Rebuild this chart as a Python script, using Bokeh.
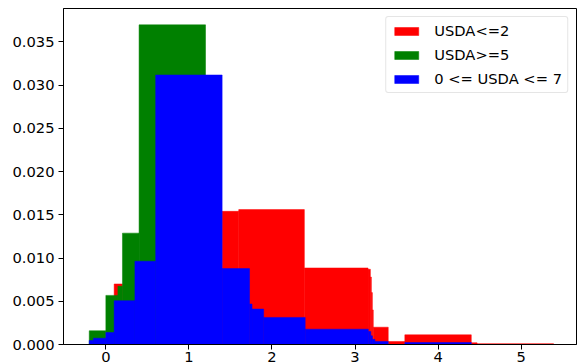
from bokeh.plotting import figure
from bokeh.models import ColumnDataSource, FixedTicker, PrintfTickFormatter, Range1d
from bokeh.embed import file_html
from bokeh.resources import INLINE

# Series "USDA<=2" (red): bar left edges, right edges, densities
red_left = [0.10, 1.40, 1.60, 2.39, 3.157, 3.185, 3.197, 3.209, 3.22, 3.40, 3.60, 4.40, 4.47]
red_right = [0.20, 1.60, 2.39, 3.157, 3.185, 3.197, 3.209, 3.22, 3.40, 3.60, 4.40, 4.47, 5.39]
red_top = [0.0070, 0.0154, 0.0156, 0.00885, 0.0087, 0.0078, 0.0060, 0.0040, 0.0020, 0.00035, 0.00112, 0.0002, 0.0001]

# Series "USDA>=5" (green)
green_left = [-0.20, 0.00, 0.145, 0.20, 0.40]
green_right = [0.00, 0.145, 0.20, 0.40, 1.20]
green_top = [0.00159, 0.00568, 0.00673, 0.01288, 0.03697]

# Series "0 <= USDA <= 7" (blue)
blue_left = [-0.20, -0.15, 0.00, 0.10, 0.35, 0.60, 1.40, 1.73, 1.76, 1.90, 2.40, 3.16, 3.19, 3.21, 3.24, 3.60]
blue_right = [-0.15, 0.00, 0.10, 0.35, 0.60, 1.40, 1.73, 1.76, 1.90, 2.40, 3.16, 3.19, 3.21, 3.24, 3.40, 4.40]
blue_top = [0.00046, 0.00073, 0.00139, 0.00507, 0.00963, 0.03117, 0.00878, 0.00468, 0.0041, 0.00313, 0.00177, 0.0015, 0.0010, 0.0006, 0.00035, 0.00023]

x_ticks = [0, 1, 2, 3, 4, 5]
y_ticks = [0.0, 0.005, 0.010, 0.015, 0.020, 0.025, 0.030, 0.035]

FONT = "DejaVu Sans"
FS = "14.7px"

p = figure(width=577, height=364,
           x_range=Range1d(-0.51, 5.667), y_range=Range1d(0, 0.03886),
           output_backend="svg", toolbar_location=None,
           min_border_left=63, min_border_right=1, min_border_top=8, min_border_bottom=0)

series = [
    ("USDA<=2", "red", red_left, red_right, red_top),
    ("USDA>=5", "green", green_left, green_right, green_top),
    ("0 <= USDA <= 7", "blue", blue_left, blue_right, blue_top),
]
for label, color, l, r, t in series:
    src = ColumnDataSource(dict(left=l, right=r, top=t, bottom=[0] * len(t)))
    p.quad(left="left", right="right", top="top", bottom="bottom", source=src,
           fill_color=color, line_color=color, line_width=0.5, legend_label=label)

p.xgrid.visible = False
p.ygrid.visible = False
p.outline_line_color = "black"
p.outline_line_alpha = 1

p.xaxis.ticker = FixedTicker(ticks=x_ticks)
p.yaxis.ticker = FixedTicker(ticks=y_ticks)
p.yaxis.formatter = PrintfTickFormatter(format="%.3f")
for ax in (p.xaxis, p.yaxis):
    ax.minor_tick_line_color = None
    ax.major_tick_in = 0
    ax.major_tick_out = 5
    ax.major_tick_line_color = "black"
    ax.axis_line_color = "black"
    ax.major_label_text_font = FONT
    ax.major_label_text_font_size = FS
    ax.major_label_text_color = "black"
p.xaxis.major_label_standoff = 2
p.yaxis.major_label_standoff = 4

lg = p.legend[0]
lg.location = "top_right"
lg.label_text_font = FONT
lg.label_text_font_size = FS
lg.label_text_color = "black"
lg.glyph_width = 30
lg.glyph_height = 10
lg.label_standoff = 13
lg.label_height = 16
lg.spacing = 7
lg.padding = 5
lg.margin = 8
lg.border_line_color = "#cccccc"
lg.background_fill_alpha = 0.8
lg.border_radius = 3

open("out.html", "w").write(file_html(p, INLINE))
